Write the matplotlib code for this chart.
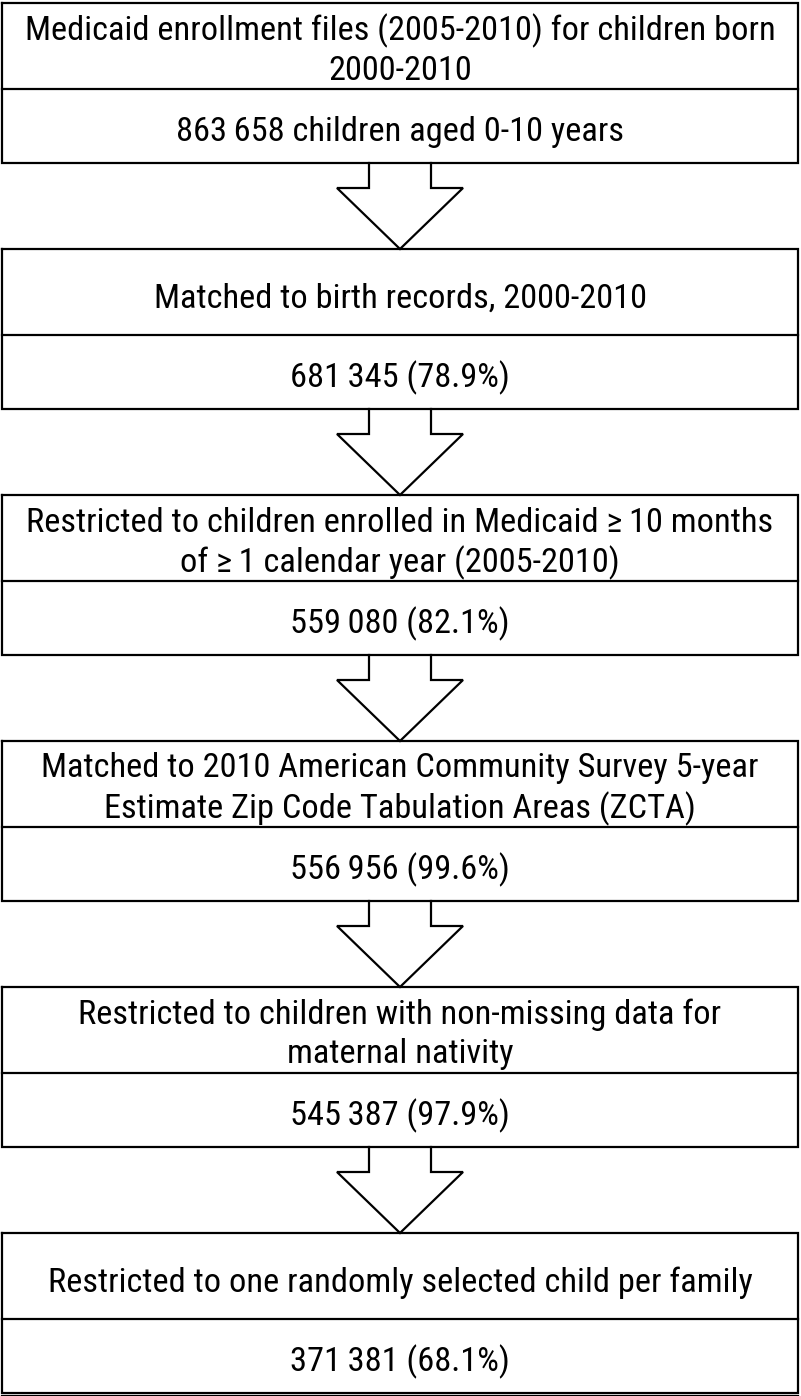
import matplotlib
matplotlib.use("Agg")
import matplotlib.pyplot as plt
from matplotlib import font_manager as fm

# ---- data ----
step_labels = [
    "Medicaid enrollment files (2005-2010) for children born\n2000-2010",
    "Matched to birth records, 2000-2010",
    "Restricted to children enrolled in Medicaid \u2265\u200910 months\nof \u2265\u20091 calendar year (2005-2010)",
    "Matched to 2010 American Community Survey 5-year\nEstimate Zip Code Tabulation Areas (ZCTA)",
    "Restricted to children with non-missing data for\nmaternal nativity",
    "Restricted to one randomly selected child per family",
]
counts = [863658, 681345, 559080, 556956, 545387, 371381]
percents = [None, 78.9, 82.1, 99.6, 97.9, 68.1]
first_count_suffix = "children aged 0-10 years"

# ---- font: prefer an installed narrow / condensed sans ----
def stretch_val(s):
    table = {"ultra-condensed": 100, "extra-condensed": 200, "condensed": 300,
             "semi-condensed": 400, "normal": 500}
    if isinstance(s, (int, float)):
        return s
    return table.get(str(s), 500)

def weight_val(w):
    if isinstance(w, (int, float)):
        return w
    return {"normal": 400, "regular": 400, "book": 400, "medium": 500}.get(str(w), 700)

cands = []
for f in fm.fontManager.ttflist:
    nm = f.name.lower()
    fn = f.fname.lower()
    narrow = ("narrow" in nm or "condensed" in nm or "narrow" in fn or "condensed" in fn
              or stretch_val(f.stretch) < 500)
    if narrow and f.style == "normal" and 350 <= weight_val(f.weight) <= 450:
        cands.append(f)

prio = ["liberation sans narrow", "roboto condensed", "open sans condensed",
        "noto sans", "dejavu sans", "open sans", "lato", "inter", "roboto"]
def rank(f):
    nm = f.name.lower()
    for i, p in enumerate(prio):
        if nm.startswith(p):
            return (i, stretch_val(f.stretch))
    return (len(prio), stretch_val(f.stretch))

if cands:
    cands.sort(key=rank)
    chosen = cands[0]
    fam_name = chosen.name
    fstretch = chosen.stretch
else:
    fam_name = "Open Sans"
    fstretch = "normal"
families = [fam_name, "DejaVu Sans"]
font_kw = dict(family=families, fontstretch=fstretch)

W, H = 801, 1396
fig = plt.figure(figsize=(W / 100, H / 100), dpi=100)
ax = fig.add_axes([0, 0, 1, 1])
ax.set_xlim(0, W)
ax.set_ylim(H, 0)
ax.axis("off")

# fit font size so the widest line spans ~748 px
renderer = fig.canvas.get_renderer()
probe = ax.text(0, 0, "Medicaid enrollment files (2005-2010) for children born",
                fontsize=20, **font_kw)
wpx = probe.get_window_extent(renderer=renderer).width
probe.remove()
fs = 20 * 748 / wpx

# ---- layout ----
left, right = 2, 798
top0, pitch = 3, 246
box_h = 160
split = 86
lw = 1.6
cx = (left + right) / 2
shaft_half = 31
head_half = 63
shaft_len = 25
line_gap = 40  # px between text line centres

def fmt(n):
    return f"{n:,}".replace(",", "\u2009")

n = len(step_labels)
for i in range(n):
    top = top0 + pitch * i
    bot = top + box_h
    ax.plot([left, right, right, left, left], [top, top, bot, bot, top],
            color="black", lw=lw, solid_joinstyle="miter")
    ax.plot([left, right], [top + split, top + split], color="black", lw=lw)
    lines = step_labels[i].split("\n")
    yc = top + split / 2 + (1 if len(lines) > 1 else 3)
    for k, ln in enumerate(lines):
        yk = yc + (k - (len(lines) - 1) / 2) * line_gap
        ax.text(cx, yk, ln, ha="center", va="center_baseline",
                fontsize=fs, color="black", **font_kw)
    if percents[i] is None:
        t2 = f"{fmt(counts[i])} {first_count_suffix}"
    else:
        t2 = f"{fmt(counts[i])} ({percents[i]:.1f}%)"
    ax.text(cx, (top + split + bot) / 2 + 2, t2, ha="center", va="center_baseline",
            fontsize=fs, color="black", **font_kw)
    if i < n - 1:
        nxt = top0 + pitch * (i + 1)
        xs = [cx - shaft_half, cx - shaft_half, cx - head_half, cx,
              cx + head_half, cx + shaft_half, cx + shaft_half]
        ys = [bot, bot + shaft_len, bot + shaft_len, nxt,
              bot + shaft_len, bot + shaft_len, bot]
        ax.fill(xs, ys, color="white", zorder=1)
        ax.plot(xs, ys, color="black", lw=lw, zorder=2, solid_joinstyle="miter")

# extra bottom rule under last box
last_bot = top0 + pitch * (n - 1) + box_h
ax.plot([left, right], [last_bot + 2.5, last_bot + 2.5], color="black", lw=lw)

fig.savefig("out.png", dpi=100)
